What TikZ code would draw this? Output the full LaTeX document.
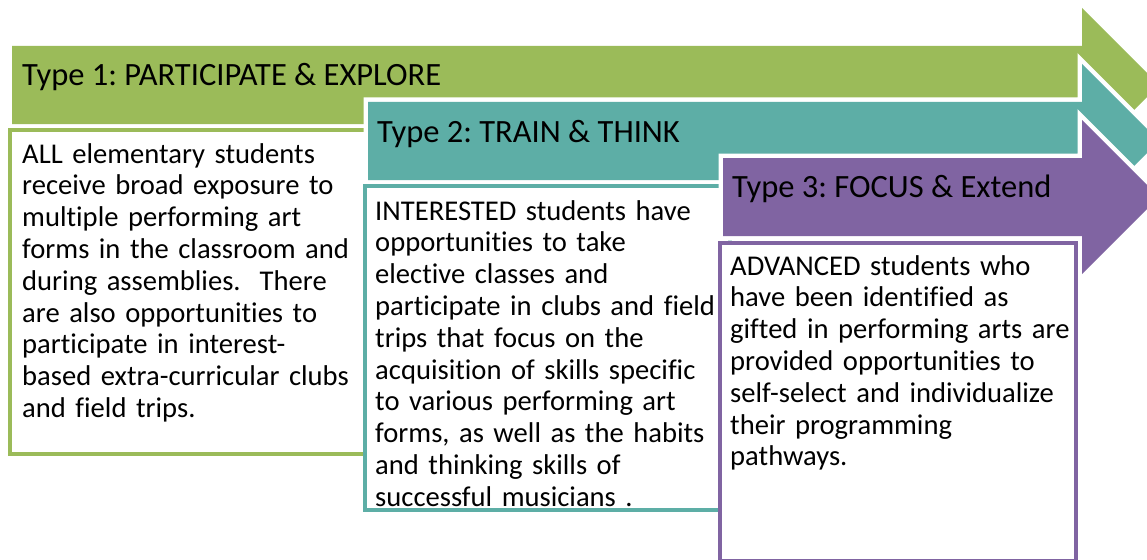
\documentclass[tikz,border=0pt]{standalone}
\usepackage{fontspec}
\setmainfont{Carlito}[Ligatures=CommonOff]
\usetikzlibrary{positioning}
\definecolor{typegreen}{HTML}{9BBB59}
\definecolor{typeteal}{HTML}{5DAEA6}
\definecolor{typepurple}{HTML}{8064A2}
\frenchspacing

\begin{document}
\begin{tikzpicture}[x=1pt, y=-1pt]
  \tikzstyle{band} = [preaction={draw=white, line width=9pt}]
  \tikzstyle{title} = [anchor=base west, inner sep=0pt, font=\fontsize{32.5}{35}\selectfont]
  \tikzstyle{card} = [rectangle, line width=4.5pt, fill=white, outer sep=0pt, inner sep=0pt, anchor=north west]
  \tikzstyle{blurb} = [anchor=base west, inner sep=0pt, text width=380pt, align=left, font=\fontsize{28.6}{31.8}\selectfont]
  \useasboundingbox (0,0) rectangle (1147,559);
  \clip (0,0) rectangle (1147,559);

  % type 1
  \fill[typegreen] (12,46) -- (1082,46) -- (1082,8) -- (1159,85) -- (1082,162) -- (1082,124) -- (12,124) -- cycle;
  \node[title] (type1) at (22,86) {Type 1: PARTICIPATE \& EXPLORE};
  \node[card, draw=typegreen, minimum width=368pt, minimum height=324pt] (allbox) at (10,130) {};
  \node[blurb] (alltext) at (22,163) {ALL elementary students\\
    receive broad exposure to\\
    multiple performing art\\
    forms in the classroom and\\
    during assemblies.\ \ There\\
    are also opportunities to\\
    participate in interest-\\
    based extra-curricular clubs\\
    and field trips.};

  % type 2
  \fill[typeteal, band] (368,102) -- (1082,102) -- (1082,64) -- (1159,141) -- (1082,218) -- (1082,180) -- (368,180) -- cycle;
  \node[title] (type2) at (377,142) {Type 2: TRAIN \& THINK};
  \node[card, draw=typeteal, minimum width=365pt, minimum height=324pt] (interestedbox) at (365,186) {};
  \node[blurb] (interestedtext) at (375,220) {INTERESTED students have\\
    opportunities to take\\
    elective classes and\\
    participate in clubs and field\\
    trips that focus on the\\
    acquisition of skills specific\\
    to various performing art\\
    forms, as well as the habits\\
    and thinking skills of\\
    successful musicians .};

  % type 3
  \fill[typepurple, band] (723,158) -- (1082,158) -- (1082,120) -- (1159,197) -- (1082,274) -- (1082,236) -- (723,236) -- cycle;
  \node[title] (type3) at (732,197) {Type 3: FOCUS \& Extend};
  \node[card, draw=typepurple, minimum width=356pt, minimum height=318pt] (advancedbox) at (720,243) {};
  \node[blurb] (advancedtext) at (730,275) {ADVANCED students who\\
    have been identified as\\
    gifted in performing arts are\\
    provided opportunities to\\
    self-select and individualize\\
    their programming\\
    pathways.};
\end{tikzpicture}
\end{document}
